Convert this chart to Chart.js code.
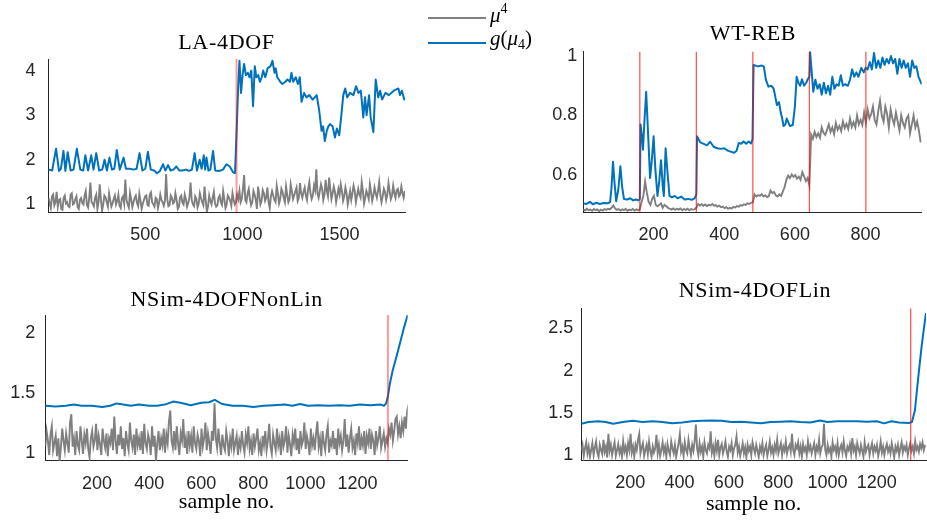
<!DOCTYPE html>
<html><head><meta charset="utf-8">
<script src="https://cdn.jsdelivr.net/npm/chart.js"></script>
<style>
html,body{margin:0;padding:0;background:#fff;}
#wrap{position:relative;width:927px;height:522px;overflow:hidden;background:#fff;}
canvas{position:absolute;}
.ttl{position:absolute;font-family:"Liberation Serif","Times New Roman",serif;font-size:22px;letter-spacing:0.7px;color:#000;white-space:nowrap;transform:translate(-50%,-50%);line-height:1;}
.legline{position:absolute;height:2px;width:58px;}
.legtxt{position:absolute;font-family:"Liberation Serif","Times New Roman",serif;font-size:21px;line-height:21px;color:#000;white-space:nowrap;}
</style></head>
<body>
<div id="wrap">
<canvas id="c1"></canvas><canvas id="c2"></canvas><canvas id="c3"></canvas><canvas id="c4"></canvas>
<div class="ttl" style="left:226.5px;top:42px">LA-4DOF</div>
<div class="ttl" style="left:753px;top:33px">WT-REB</div>
<div class="ttl" style="left:226.7px;top:298.5px">NSim-4DOFNonLin</div>
<div class="ttl" style="left:755px;top:289.5px">NSim-4DOFLin</div>
<div class="legline" style="left:428px;top:16.5px;background:#808080"></div>
<div class="legline" style="left:428px;top:41.5px;background:#0072BD"></div>
<div class="legtxt" style="left:490px;top:5px"><i>μ</i><span style="font-size:14px;position:relative;top:-9px">4</span></div>
<div class="legtxt" style="left:490px;top:28px"><i>g</i>(<i>μ</i><span style="font-size:14px;position:relative;top:4px">4</span>)</div>
</div>
<script>
// ================= DATA =================
// --- LA-4DOF ---
const LA_X_TICKS = [500, 1000, 1500];
const LA_Y_TICKS = [1, 2, 3, 4];
const LA_X_RANGE = [1, 1838];
const LA_Y_RANGE = [0.83, 4.26];
const LA_CHANGES = [970];
const LA_GREY_STEP = 6;
const LA_GREY = [
1.15,1.02,0.92,1.18,1.22,0.98,1.05,1.28,0.95,1.10,
1.12,0.90,0.88,1.15,1.20,1.02,1.05,0.96,0.94,1.22,
1.25,1.00,1.02,1.12,1.18,0.94,0.90,1.10,1.14,1.03,
1.00,1.20,1.30,0.98,0.93,1.15,1.49,1.05,1.02,0.96,
1.15,1.22,0.90,1.05,1.45,1.12,0.86,1.00,1.20,1.16,
1.05,0.95,1.25,1.10,0.95,1.02,1.12,1.20,1.00,1.08,
1.22,0.97,0.92,1.14,1.18,1.02,1.56,1.10,1.00,0.93,
1.26,1.12,0.94,1.05,1.15,1.20,1.03,0.96,1.24,1.08,
0.90,1.02,1.10,1.18,1.20,0.99,0.97,1.22,1.27,1.05,
1.00,0.95,1.15,1.12,0.92,1.04,1.22,1.10,1.05,0.97,
1.08,1.68,1.12,0.96,0.98,1.20,1.15,1.02,1.05,1.25,
1.10,0.90,0.95,1.16,1.20,1.04,1.00,1.22,1.12,0.95,
1.03,1.15,1.49,1.10,1.00,0.96,1.18,1.12,0.93,1.02,
1.25,1.14,1.05,0.98,1.40,1.10,0.84,0.95,1.20,1.08,
1.00,1.15,1.28,1.02,0.95,0.98,1.15,1.20,1.05,0.99,
1.30,1.12,0.92,1.00,1.20,1.15,1.08,0.97,1.25,1.10,
1.00,1.05,1.22,1.12,1.30,1.05,1.12,1.35,1.66,1.10,
1.05,1.25,1.35,1.12,0.98,1.05,1.30,1.22,1.10,0.90,
1.40,1.20,1.00,1.08,1.32,1.25,1.08,1.15,1.38,1.05,
0.92,1.18,1.30,1.20,1.10,1.05,1.42,1.25,1.02,1.12,
1.35,1.28,1.15,1.05,1.40,1.22,1.05,1.12,1.45,1.30,
1.12,1.20,1.30,1.38,1.08,1.15,1.48,1.25,1.15,1.28,
1.38,1.20,1.10,1.35,1.50,1.25,1.12,1.20,1.42,1.32,
1.79,1.25,1.15,1.30,1.45,1.35,1.10,1.22,1.55,1.30,
1.18,1.60,1.35,1.12,1.25,1.40,1.28,1.05,1.20,1.35,
1.22,1.45,1.30,1.08,1.18,1.38,1.25,1.00,1.15,1.30,
1.10,1.25,1.42,1.30,1.05,1.20,1.35,1.22,1.15,1.50,
1.30,1.02,1.15,1.30,1.22,1.12,1.45,1.28,1.08,1.20,
1.38,1.25,1.15,1.30,1.50,1.22,1.05,1.18,1.35,1.28,
1.10,1.22,1.48,1.30,1.12,1.20,1.42,1.25,1.15,1.32,
1.35,1.18,1.22,1.40,1.25,1.15,1.30];
const LA_BLUE = [
[1,1.78],[20,1.76],[40,2.25],[55,1.75],[65,1.8],[78,2.2],[88,1.75],[100,2.17],[115,1.76],[130,1.78],[147,2.25],[165,1.78],[180,1.76],[191,2.1],[205,1.76],[221,2.1],[233,1.78],[247,2.15],[262,1.76],[278,1.78],[290,2.0],[302,1.76],[315,2.05],[328,1.78],[340,1.8],[353,2.22],[368,1.78],[388,2.05],[400,1.8],[420,1.8],[440,1.78],[455,1.8],[470,2.15],[485,1.76],[500,1.8],[513,2.18],[528,1.78],[545,1.76],[560,1.7],[575,1.75],[591,1.9],[603,1.76],[617,1.88],[630,1.76],[645,1.78],[660,1.85],[675,1.76],[690,1.76],[710,1.78],[725,1.75],[740,1.78],[754,2.15],[766,1.76],[780,2.0],[790,1.8],[801,2.1],[808,1.78],[815,2.05],[825,1.76],[835,1.78],[849,2.2],[860,1.76],[880,1.75],[900,1.78],[918,1.9],[935,1.85],[952,1.72],[962,1.7],
[970,2.6],[978,3.6],[985,4.22],[993,3.5],[1001,3.9],[1009,4.15],[1018,3.9],[1028,3.95],[1037,3.85],[1046,4.0],[1055,3.2],[1064,4.1],[1072,3.85],[1082,3.9],[1090,3.75],[1100,3.85],[1107,4.0],[1118,3.85],[1130,4.05],[1145,4.1],[1155,4.22],[1166,3.95],[1172,4.05],[1180,3.85],[1195,3.75],[1206,3.7],[1222,3.75],[1232,3.8],[1245,3.75],[1253,3.95],[1262,3.75],[1275,3.85],[1286,3.7],[1296,3.85],[1305,3.3],[1318,3.5],[1330,3.4],[1345,3.45],[1362,3.35],[1383,3.45],[1396,3.1],[1408,2.65],[1416,2.75],[1425,2.42],[1435,2.65],[1443,2.75],[1452,2.8],[1465,2.75],[1477,2.5],[1487,2.7],[1499,2.55],[1510,3.0],[1520,3.45],[1530,3.6],[1540,3.4],[1555,3.5],[1572,3.45],[1586,3.65],[1598,3.5],[1610,3.55],[1616,3.3],[1623,2.95],[1632,3.4],[1640,3.0],[1653,3.45],[1661,2.95],[1675,2.62],[1687,3.8],[1700,3.4],[1710,3.55],[1720,3.35],[1737,3.5],[1755,3.45],[1780,3.55],[1804,3.6],[1812,3.45],[1822,3.55],[1834,3.35],[1838,3.38]];

// --- WT-REB ---
const WT_X_TICKS = [200, 400, 600, 800];
const WT_Y_TICKS = [0.6, 0.8, 1];
const WT_X_RANGE = [1, 959];
const WT_Y_RANGE = [0.475, 1.015];
const WT_CHANGES = [161, 321, 481, 641, 801];
const WT_GREY_STEP = 5;
const WT_GREY = [
0.485,0.481,0.487,0.482,0.484,0.480,0.486,0.482,0.485,0.479,
0.484,0.481,0.486,0.483,0.487,0.485,0.490,0.498,0.488,0.483,
0.486,0.481,0.485,0.482,0.487,0.480,0.484,0.482,0.486,0.481,
0.485,0.482,0.485,0.510,0.530,0.578,0.540,0.510,0.500,0.520,
0.530,0.500,0.495,0.500,0.505,0.490,0.500,0.495,0.490,0.487,
0.484,0.488,0.483,0.487,0.484,0.488,0.482,0.486,0.483,0.487,
0.482,0.486,0.484,0.485,0.490,0.503,0.498,0.502,0.497,0.501,
0.496,0.500,0.498,0.503,0.497,0.499,0.494,0.497,0.492,0.494,
0.489,0.492,0.487,0.490,0.488,0.493,0.491,0.496,0.494,0.499,
0.497,0.502,0.500,0.505,0.503,0.507,0.509,0.535,0.528,0.533,
0.530,0.536,0.528,0.532,0.526,0.529,0.548,0.540,0.543,0.532,
0.528,0.535,0.530,0.545,0.560,0.585,0.598,0.590,0.602,0.594,
0.600,0.588,0.595,0.584,0.610,0.596,0.580,0.590,0.565,0.735,
0.722,0.745,0.728,0.740,0.725,0.760,0.742,0.735,0.752,0.770,
0.745,0.760,0.738,0.775,0.752,0.765,0.748,0.780,0.758,0.772,
0.755,0.790,0.762,0.778,0.760,0.800,0.770,0.785,0.768,0.810,
0.775,0.820,0.790,0.805,0.830,0.785,0.770,0.815,0.850,0.800,
0.780,0.830,0.805,0.760,0.820,0.790,0.770,0.810,0.780,0.750,
0.800,0.775,0.760,0.790,0.800,0.740,0.770,0.800,0.760,0.780,
0.750,0.710];
const WT_BLUE = [
[1,0.505],[10,0.503],[20,0.51],[28,0.502],[38,0.507],[48,0.503],[58,0.506],[70,0.505],[77,0.51],[81,0.56],[85,0.645],[89,0.58],[94,0.512],[100,0.55],[106,0.63],[111,0.56],[116,0.52],[125,0.518],[134,0.522],[142,0.515],[150,0.518],[157,0.515],[161,0.52],[163,0.77],[167,0.73],[170,0.685],[174,0.78],[179,0.88],[184,0.75],[190,0.59],[195,0.65],[200,0.73],[205,0.62],[211,0.53],[216,0.58],[221,0.65],[226,0.56],[229,0.53],[234,0.69],[240,0.6],[245,0.53],[252,0.525],[260,0.53],[268,0.522],[278,0.528],[288,0.518],[298,0.52],[308,0.517],[316,0.522],[321,0.535],[323,0.73],[332,0.71],[342,0.705],[351,0.7],[360,0.712],[370,0.695],[380,0.69],[390,0.688],[400,0.69],[410,0.682],[420,0.678],[428,0.675],[435,0.682],[441,0.708],[448,0.705],[455,0.713],[462,0.705],[469,0.713],[476,0.706],[480,0.72],[483,0.97],[495,0.965],[505,0.968],[512,0.965],[518,0.92],[525,0.897],[533,0.9],[540,0.89],[545,0.86],[549,0.835],[555,0.845],[560,0.81],[563,0.796],[568,0.765],[573,0.77],[577,0.79],[582,0.775],[586,0.765],[594,0.768],[600,0.83],[605,0.93],[610,0.91],[615,0.9],[620,0.922],[626,0.9],[632,0.91],[638,0.925],[641,0.93],[643,1.015],[648,0.94],[652,0.88],[658,0.92],[664,0.89],[670,0.905],[676,0.87],[682,0.91],[688,0.875],[694,0.9],[700,0.87],[706,0.93],[712,0.89],[718,0.905],[724,0.9],[730,0.935],[736,0.9],[742,0.905],[750,0.9],[756,0.92],[762,0.955],[768,0.93],[774,0.945],[780,0.93],[788,0.96],[795,0.945],[800,0.96],[806,0.955],[812,0.98],[818,0.955],[824,1.01],[830,0.96],[836,0.985],[842,0.96],[848,0.995],[854,0.97],[860,0.99],[866,0.975],[872,1.0],[878,0.975],[884,0.99],[890,0.94],[896,0.99],[902,0.96],[908,0.985],[914,0.96],[920,0.975],[926,0.93],[932,0.985],[938,0.96],[944,0.965],[950,0.93],[959,0.905]];

// --- NSim-4DOFNonLin ---
const NL_X_TICKS = [200, 400, 600, 800, 1000, 1200];
const NL_Y_TICKS = [1, 1.5, 2];
const NL_X_RANGE = [1, 1393];
const NL_Y_RANGE = [0.933, 2.146];
const NL_CHANGES = [1317];
const NL_GREY_STEP = 5;
const NL_GREY = [
1.05,1.18,1.10,0.98,1.15,1.22,1.02,1.08,1.14,0.97,
1.12,0.93,1.05,1.20,1.10,1.02,1.16,1.08,1.00,1.25,
1.32,1.05,1.12,0.98,1.18,1.06,1.02,1.22,1.10,0.99,
1.15,1.08,1.20,1.03,0.96,1.12,1.18,1.05,1.10,1.24,
1.02,1.14,1.07,0.98,1.20,1.10,1.04,1.16,0.97,1.12,
1.08,1.20,1.02,1.30,1.10,0.99,1.15,1.06,1.22,1.03,
1.12,0.97,1.18,1.08,1.02,1.25,1.10,1.04,1.15,0.98,
1.20,1.06,1.12,1.02,1.18,0.99,1.24,1.08,1.03,1.15,
1.10,0.98,1.22,1.05,1.14,0.93,1.08,1.18,1.02,1.12,
1.06,1.20,1.00,1.15,1.08,1.26,1.35,1.10,1.04,1.18,
1.02,1.22,1.08,0.98,1.16,1.10,1.28,1.04,1.12,0.99,
1.18,1.06,1.14,1.00,1.22,1.08,1.03,1.15,1.10,0.97,
1.20,1.05,1.12,1.25,1.02,1.16,1.08,0.99,1.18,1.10,
1.41,1.12,1.04,1.20,1.08,0.98,1.15,1.06,1.02,1.18,
1.10,0.97,1.12,1.05,1.20,1.02,1.08,1.14,0.98,1.10,
1.04,1.18,1.06,1.00,1.15,1.08,1.22,1.03,1.10,0.98,
1.16,1.05,1.12,1.20,1.02,1.08,0.97,1.14,1.06,1.18,
1.02,1.10,1.24,1.05,0.99,1.15,1.08,1.02,1.20,1.06,
1.12,0.98,1.18,1.05,1.10,1.22,1.00,1.14,1.07,0.97,
1.15,1.08,1.20,1.02,1.12,0.99,1.18,1.06,1.10,1.25,
1.03,1.14,1.08,0.98,1.20,1.06,1.12,1.02,1.16,1.26,
1.05,1.12,0.97,1.18,1.08,1.02,1.15,1.22,1.00,1.10,
1.06,1.18,1.03,1.12,0.98,1.20,1.08,1.14,1.02,1.10,
1.28,1.05,1.15,1.00,1.12,1.20,1.04,1.10,0.98,1.16,
1.08,1.22,1.02,1.12,1.06,1.18,0.99,1.14,1.08,1.20,
1.03,1.15,1.10,0.98,1.18,1.06,1.12,1.22,1.04,1.10,
1.16,1.05,1.12,1.08,1.20,1.15,1.25,1.10,1.18,1.28,
1.30,1.15,1.22,1.12,1.25,1.18,1.30,1.20,1.35,1.40];
const NL_BLUE = [
[1,1.39],[40,1.385],[80,1.39],[110,1.4],[140,1.39],[180,1.39],[220,1.38],[250,1.39],[275,1.41],[300,1.4],[330,1.39],[360,1.4],[400,1.39],[430,1.39],[460,1.4],[492,1.425],[520,1.415],[560,1.395],[600,1.415],[630,1.42],[652,1.44],[680,1.405],[720,1.39],[760,1.39],[800,1.38],[840,1.39],[880,1.395],[920,1.4],[950,1.39],[980,1.405],[1010,1.39],[1050,1.395],[1090,1.39],[1130,1.395],[1170,1.39],[1210,1.4],[1250,1.395],[1290,1.4],[1302,1.39],[1310,1.41],[1317,1.47],[1325,1.58],[1336,1.69],[1350,1.8],[1362,1.9],[1376,2.02],[1393,2.146]];

// --- NSim-4DOFLin ---
const LIN_X_TICKS = [200, 400, 600, 800, 1000, 1200];
const LIN_Y_TICKS = [1, 1.5, 2, 2.5];
const LIN_X_RANGE = [1, 1400];
const LIN_Y_RANGE = [0.933, 2.737];
const LIN_CHANGES = [1338];
const LIN_GREY_STEP = 5;
const LIN_GREY = [
1.05,1.12,0.99,1.08,1.15,1.02,1.10,0.98,1.06,1.14,
1.00,1.09,1.16,1.03,0.98,1.12,1.06,1.01,1.18,1.04,
1.10,0.97,1.25,1.05,1.12,1.00,1.08,1.15,0.99,1.06,
1.13,1.02,1.08,0.98,1.16,1.04,1.10,1.00,1.14,1.06,
1.25,1.03,1.10,0.98,1.12,1.06,1.18,1.25,1.02,1.09,
1.14,0.99,1.06,1.12,1.01,1.16,1.05,0.98,1.10,1.03,
1.08,1.24,1.02,1.12,0.99,1.06,1.15,1.03,1.10,0.98,
1.13,1.05,1.00,1.16,1.08,1.02,1.12,0.98,1.06,1.14,
1.25,1.04,1.10,0.99,1.15,1.06,1.02,1.18,1.08,1.00,
1.12,1.05,1.16,1.36,1.08,1.00,1.14,1.04,1.10,0.98,
1.15,1.06,1.02,1.12,1.08,1.28,1.03,1.10,0.99,1.14,
1.05,1.18,1.00,1.09,1.13,1.02,1.08,1.16,1.04,0.98,
1.10,1.06,1.14,1.00,1.08,1.12,1.22,1.03,1.10,0.99,
1.06,1.14,1.02,1.09,0.97,1.12,1.05,1.10,1.00,1.15,
1.08,1.02,1.12,1.05,0.98,1.10,1.04,1.14,1.00,1.07,
1.12,0.99,1.06,1.16,1.03,1.09,1.00,1.12,1.05,1.18,
1.02,1.08,1.14,1.00,1.10,1.05,1.16,1.02,1.09,1.12,
1.04,1.25,1.06,1.00,1.12,1.08,1.15,1.02,1.10,0.98,
1.13,1.05,1.09,1.00,1.16,1.06,1.11,1.02,1.08,1.14,
1.00,1.10,1.05,1.18,1.02,1.09,1.12,1.37,1.06,1.00,
1.12,1.04,1.08,0.98,1.15,1.06,1.10,1.02,1.14,1.00,
1.08,1.12,1.03,1.16,1.05,0.99,1.10,1.06,1.13,1.02,
1.20,1.05,1.10,1.00,1.14,1.07,1.02,1.12,1.05,0.98,
1.15,1.04,1.09,1.12,1.00,1.08,1.14,1.02,1.10,1.05,
1.12,0.99,1.06,1.16,1.03,1.10,1.00,1.08,1.13,1.04,
1.09,1.02,1.14,1.06,0.97,1.10,1.05,1.12,1.00,1.08,
1.15,1.03,1.10,1.06,1.12,1.00,1.08,1.14,1.05,1.10,
1.02,1.16,1.06,1.10,1.04,1.13,1.08,1.15,1.06,1.12];
const LIN_BLUE = [
[1,1.37],[30,1.39],[70,1.4],[100,1.39],[130,1.37],[170,1.39],[210,1.405],[250,1.39],[290,1.4],[330,1.39],[370,1.375],[410,1.385],[450,1.4],[490,1.405],[530,1.41],[570,1.405],[610,1.39],[650,1.395],[690,1.385],[730,1.375],[770,1.39],[810,1.395],[850,1.4],[890,1.39],[930,1.385],[970,1.41],[1000,1.39],[1040,1.4],[1080,1.4],[1120,1.4],[1160,1.395],[1200,1.4],[1230,1.375],[1260,1.4],[1290,1.385],[1330,1.38],[1343,1.39],[1355,1.53],[1369,1.93],[1382,2.28],[1396,2.6],[1400,2.68]];

// ================= LAYOUT (positions only) =================
const FONT_TICK = {family: '"Liberation Sans", Arial, sans-serif', size: 18};
const TICK_COLOR = '#262626';

function build(id, box, area, d) {
  const cv = document.getElementById(id);
  cv.width = box.W; cv.height = box.H;
  cv.style.left = box.L + 'px'; cv.style.top = box.T + 'px';
  const greyPts = d.grey.map((v, i) => ({x: 1 + i * d.greyStep, y: v}));
  const bluePts = d.blue.map(p => ({x: p[0], y: p[1]}));
  const redSets = d.changes.map(c => ({
    data: [{x: c, y: d.yr[0]}, {x: c, y: d.yr[1]}],
    borderColor: d.red.color, borderWidth: d.red.width, pointRadius: 0, order: 0
  }));
  new Chart(cv, {
    type: 'line',
    data: {datasets: [
      ...redSets,
      {data: bluePts, borderColor: '#0072BD', borderWidth: 2, pointRadius: 0, order: 1, borderJoinStyle: 'round'},
      {data: greyPts, borderColor: '#7f7f7f', borderWidth: 1.9, pointRadius: 0, order: 2}
    ]},
    options: {
      responsive: false, animation: false, devicePixelRatio: 1, events: [],
      layout: {padding: {left: 0, bottom: 0, top: area.top - box.T, right: box.L + box.W - area.right}},
      plugins: {legend: {display: false}, tooltip: {enabled: false}, title: {display: false}},
      scales: {
        x: {
          type: 'linear', min: d.xr[0], max: d.xr[1],
          grid: {display: false, drawTicks: false},
          border: {display: true, color: TICK_COLOR, width: 1},
          ticks: {autoSkip: false, maxRotation: 0, padding: d.xPad, font: FONT_TICK, color: TICK_COLOR, callback: v => String(v)},
          title: d.xTitle ? {display: true, text: d.xTitle, color: '#000',
            font: {family: '"Liberation Serif", "Times New Roman", serif', size: 22}, padding: {top: 0, bottom: d.xTitlePad}} : {display: false},
          afterBuildTicks: s => { s.ticks = d.xt.map(v => ({value: v})); },
          afterFit: s => { s.height = box.T + box.H - area.bottom; s.paddingLeft = 0; s.paddingRight = 0; }
        },
        y: {
          type: 'linear', min: d.yr[0], max: d.yr[1],
          grid: {display: false, drawTicks: false},
          border: {display: true, color: TICK_COLOR, width: 1},
          ticks: {autoSkip: false, padding: d.yPad, font: FONT_TICK, color: TICK_COLOR, callback: v => String(v)},
          afterBuildTicks: s => { s.ticks = d.yt.map(v => ({value: v})); },
          afterFit: s => { s.width = area.left - box.L; s.paddingTop = 0; s.paddingBottom = 0; }
        }
      }
    }
  });
}

const RED_SOFT = {color: 'rgba(255,0,0,0.4)', width: 2};
const RED_THIN = {color: 'rgba(255,0,0,0.7)', width: 1.2};

build('c1', {L: 0, T: 40, W: 420, H: 210}, {left: 48.5, right: 405, top: 59, bottom: 212},
  {grey: LA_GREY, greyStep: LA_GREY_STEP, blue: LA_BLUE, changes: LA_CHANGES, xr: LA_X_RANGE, yr: LA_Y_RANGE,
   xt: LA_X_TICKS, yt: LA_Y_TICKS, red: RED_SOFT, xPad: 12, yPad: 13});
build('c2', {L: 520, T: 30, W: 407, H: 220}, {left: 583.3, right: 921.7, top: 51.5, bottom: 212.3},
  {grey: WT_GREY, greyStep: WT_GREY_STEP, blue: WT_BLUE, changes: WT_CHANGES, xr: WT_X_RANGE, yr: WT_Y_RANGE,
   xt: WT_X_TICKS, yt: WT_Y_TICKS, red: RED_THIN, xPad: 12, yPad: 6});
build('c3', {L: 0, T: 300, W: 420, H: 222}, {left: 45.3, right: 407.7, top: 315, bottom: 460.7},
  {grey: NL_GREY, greyStep: NL_GREY_STEP, blue: NL_BLUE, changes: NL_CHANGES, xr: NL_X_RANGE, yr: NL_Y_RANGE,
   xt: NL_X_TICKS, yt: NL_Y_TICKS, red: RED_SOFT, xPad: 13, yPad: 10, xTitle: 'sample no.', xTitlePad: 7});
build('c4', {L: 520, T: 295, W: 407, H: 227}, {left: 581.3, right: 926, top: 308.3, bottom: 460.7},
  {grey: LIN_GREY, greyStep: LIN_GREY_STEP, blue: LIN_BLUE, changes: LIN_CHANGES, xr: LIN_X_RANGE, yr: LIN_Y_RANGE,
   xt: LIN_X_TICKS, yt: LIN_Y_TICKS, red: RED_THIN, xPad: 12, yPad: 8, xTitle: 'sample no.', xTitlePad: 5});
</script>
</body></html>
